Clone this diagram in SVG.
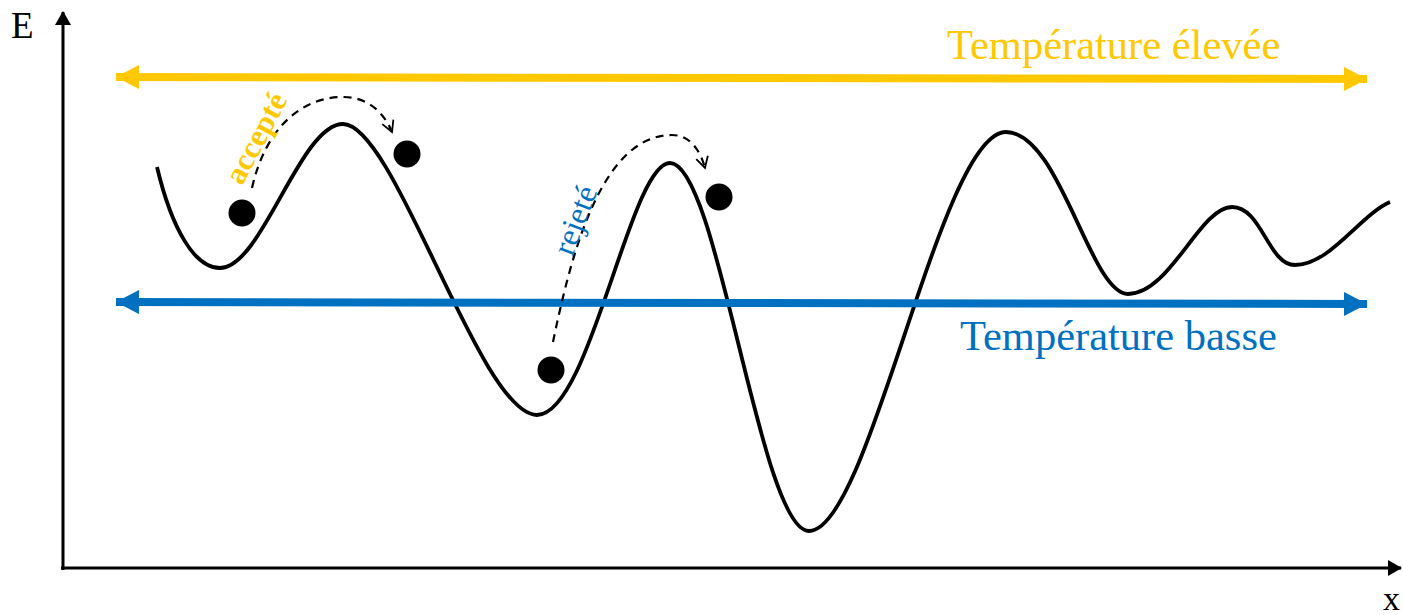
<svg xmlns="http://www.w3.org/2000/svg" width="1403" height="615" viewBox="0 0 1403 615">
<style>
.axis{stroke:#000;stroke-width:3;fill:none}
.curve{stroke:#000;stroke-width:3.8;fill:none;stroke-linejoin:round}
.dash{stroke:#000;stroke-width:2.2;fill:none;stroke-dasharray:8 6}
.ball{fill:#000}
.t{font-family:"Liberation Serif","Times New Roman",serif}
</style>
<defs>
<marker id="ah" markerUnits="userSpaceOnUse" markerWidth="16" markerHeight="18" refX="13" refY="8" orient="auto"><path d="M0,0 L14,8 L0,16 Z" fill="#000"/></marker>
<marker id="ahy" markerUnits="userSpaceOnUse" markerWidth="26" markerHeight="26" refX="23" refY="12" orient="auto-start-reverse"><path d="M0,0 L23,12 L0,24 Z" fill="#FFC800"/></marker>
<marker id="ahb" markerUnits="userSpaceOnUse" markerWidth="26" markerHeight="26" refX="23" refY="12" orient="auto-start-reverse"><path d="M0,0 L23,12 L0,24 Z" fill="#0070C0"/></marker>
<marker id="open" markerUnits="userSpaceOnUse" markerWidth="16" markerHeight="16" refX="12" refY="7" orient="auto"><path d="M1,1 L12,7 L1,13" fill="none" stroke="#000" stroke-width="1.8"/></marker>
</defs>
<g id="axes">
<line class="axis" x1="63" y1="570" x2="63" y2="12" marker-end="url(#ah)"/>
<line class="axis" x1="61" y1="568" x2="1401" y2="568" marker-end="url(#ah)"/>
<text class="t" x="11" y="38" font-size="37">E</text>
<text class="t" x="1383" y="610" font-size="34">x</text>
</g>
<g id="energy-curve">
<path class="curve" d="M157,167 C172,230 195,268 220,268 C262,268 300,124 343,124 C395,124 480,415 537,415 C590,415 630,163 670,163 C718,163 760,531 809,531 C870,531 940,132 1006,132 C1060,132 1090,294 1128,294 C1170,294 1200,207 1232,207 C1262,207 1268,265 1295,265 C1330,265 1360,215 1390,202"/>
</g>
<g id="high-temp">
<line x1="116" y1="77" x2="1367" y2="79" stroke="#FFC800" stroke-width="8" marker-start="url(#ahy)" marker-end="url(#ahy)"/>
<text class="t" x="947" y="59" font-size="42.5" fill="#FFC800">Température élevée</text>
</g>
<g id="low-temp">
<line x1="116" y1="302" x2="1367" y2="304" stroke="#0070C0" stroke-width="8" marker-start="url(#ahb)" marker-end="url(#ahb)"/>
<text class="t" x="960" y="350" font-size="42.5" fill="#0070C0">Température basse</text>
</g>
<g id="balls">
<circle class="ball" cx="242" cy="213" r="13.5"/>
<circle class="ball" cx="407" cy="154" r="13.5"/>
<circle class="ball" cx="551" cy="370" r="13.5"/>
<circle class="ball" cx="719" cy="197" r="13.5"/>
</g>
<g id="connectors">
<path class="dash" d="M252,188 C265,130 300,97 343,97 C370,97 385,115 392,132" marker-end="url(#open)"/>
<path class="dash" d="M553,342 C570,260 600,135 672,135 C690,135 700,150 705,168" marker-end="url(#open)"/>
</g>
<g id="labels">
<text class="t" font-size="31" font-weight="bold" fill="#FFC800" text-anchor="middle" transform="translate(265,143) rotate(-62)">accepté</text>
<text class="t" font-size="32" fill="#0070C0" text-anchor="middle" transform="translate(585,224) rotate(-69)">rejeté</text>
</g>
</svg>
